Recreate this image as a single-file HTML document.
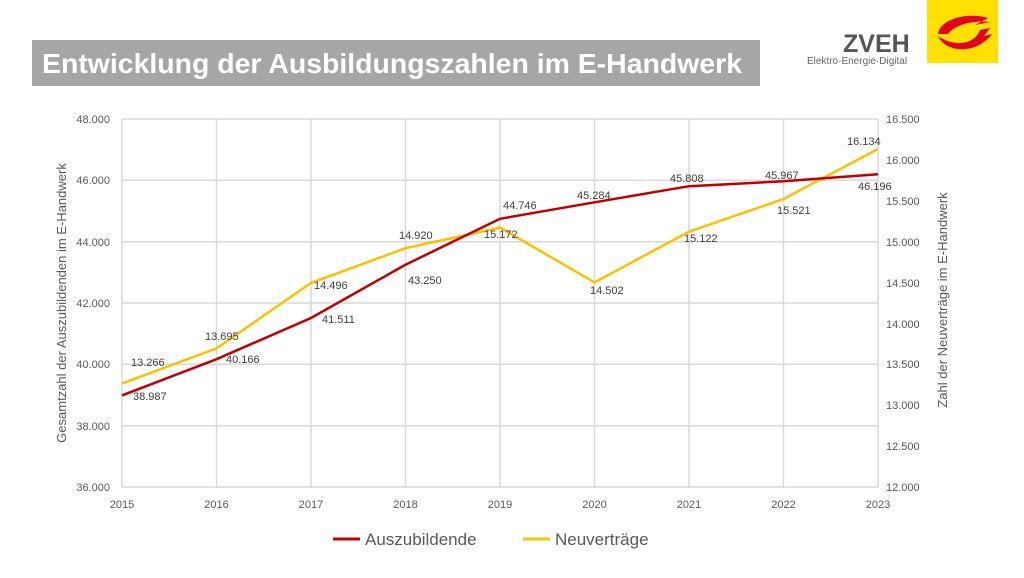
<!DOCTYPE html>
<html><head><meta charset="utf-8"><style>
body{margin:0;width:1024px;height:573px;background:#fff;overflow:hidden;font-family:"Liberation Sans",sans-serif}
</style></head><body>
<svg width="1024" height="573" xmlns="http://www.w3.org/2000/svg" font-family="Liberation Sans, sans-serif">
<rect x="32" y="40" width="728" height="46" fill="#a6a6a6"/>
<text x="42" y="73" font-size="28" font-weight="bold" fill="#fff" textLength="700" lengthAdjust="spacingAndGlyphs">Entwicklung der Ausbildungszahlen im E-Handwerk</text>
<text x="843" y="52" font-size="25" font-weight="bold" fill="#555">ZVEH</text>
<text x="807" y="64" font-size="10" fill="#666">Elektro·Energie·Digital</text>
<rect x="927" y="0" width="71" height="63" fill="#ffe000"/>
<path d="M938 34 C940 18 970 12 988 18 L975 25 L990 22 C975 20 955 24 948 34 Z" fill="#e2001a"/>
<path d="M938 36 C945 52 975 56 992 34 L984 36 L990 28 L980 30 C975 44 955 48 938 36 Z" fill="#e2001a"/>
<g stroke="#d9d9d9" stroke-width="1.5">
<line x1="122" y1="119" x2="878" y2="119"/><line x1="122" y1="180.3" x2="878" y2="180.3"/><line x1="122" y1="241.7" x2="878" y2="241.7"/><line x1="122" y1="303" x2="878" y2="303"/><line x1="122" y1="364.3" x2="878" y2="364.3"/><line x1="122" y1="425.7" x2="878" y2="425.7"/><line x1="122" y1="487" x2="878" y2="487"/>
<line x1="122" y1="119" x2="122" y2="487"/><line x1="216.5" y1="119" x2="216.5" y2="487"/><line x1="311" y1="119" x2="311" y2="487"/><line x1="405.5" y1="119" x2="405.5" y2="487"/><line x1="500" y1="119" x2="500" y2="487"/><line x1="594.5" y1="119" x2="594.5" y2="487"/><line x1="689" y1="119" x2="689" y2="487"/><line x1="783.5" y1="119" x2="783.5" y2="487"/><line x1="878" y1="119" x2="878" y2="487"/>
</g>
<g font-size="11" fill="#595959" text-anchor="end">
<text x="110" y="123">48.000</text><text x="110" y="184">46.000</text><text x="110" y="246">44.000</text><text x="110" y="307">42.000</text><text x="110" y="368">40.000</text><text x="110" y="430">38.000</text><text x="110" y="491">36.000</text>
</g>
<g font-size="11" fill="#595959">
<text x="886" y="123">16.500</text><text x="886" y="164">16.000</text><text x="886" y="205">15.500</text><text x="886" y="246">15.000</text><text x="886" y="287">14.500</text><text x="886" y="328">14.000</text><text x="886" y="368">13.500</text><text x="886" y="409">13.000</text><text x="886" y="450">12.500</text><text x="886" y="491">12.000</text>
</g>
<g font-size="11" fill="#595959" text-anchor="middle">
<text x="122" y="508">2015</text><text x="216.5" y="508">2016</text><text x="311" y="508">2017</text><text x="405.5" y="508">2018</text><text x="500" y="508">2019</text><text x="594.5" y="508">2020</text><text x="689" y="508">2021</text><text x="783.5" y="508">2022</text><text x="878" y="508">2023</text>
</g>
<text transform="translate(66,303) rotate(-90)" font-size="13" fill="#595959" text-anchor="middle">Gesamtzahl der Auszubildenden im E-Handwerk</text>
<text transform="translate(947,300) rotate(-90)" font-size="13" fill="#595959" text-anchor="middle">Zahl der Neuverträge im E-Handwerk</text>
<polyline fill="none" stroke="#ffc000" stroke-width="2.5" points="122,383.5 216.5,348.4 311,282.9 405.5,248.2 500,227.6 594.5,282.4 689,231.7 783.5,199 878,149"/>
<polyline fill="none" stroke="#c00000" stroke-width="2.5" points="122,395.4 216.5,359.2 311,318 405.5,264.7 500,218.8 594.5,202.3 689,186.2 783.5,181.3 878,174.3"/>
<g font-size="11" fill="#404040">
<text x="133" y="400">38.987</text><text x="226" y="363">40.166</text><text x="322" y="323">41.511</text><text x="408" y="284">43.250</text><text x="503" y="209">44.746</text><text x="577" y="199">45.284</text><text x="670" y="182">45.808</text><text x="765" y="179">45.967</text><text x="858" y="190">46.196</text>
<text x="131" y="366">13.266</text><text x="205" y="340">13.695</text><text x="314" y="289">14.496</text><text x="399" y="239">14.920</text><text x="484" y="238">15.172</text><text x="590" y="294">14.502</text><text x="684" y="242">15.122</text><text x="777" y="214">15.521</text><text x="847" y="145">16.134</text>
</g>
<line x1="333" y1="539" x2="360" y2="539" stroke="#c00000" stroke-width="3"/>
<text x="365" y="545" font-size="17" fill="#595959">Auszubildende</text>
<line x1="523" y1="539" x2="550" y2="539" stroke="#ffc000" stroke-width="3"/>
<text x="555" y="545" font-size="17" fill="#595959">Neuverträge</text>
</svg>
</body></html>
